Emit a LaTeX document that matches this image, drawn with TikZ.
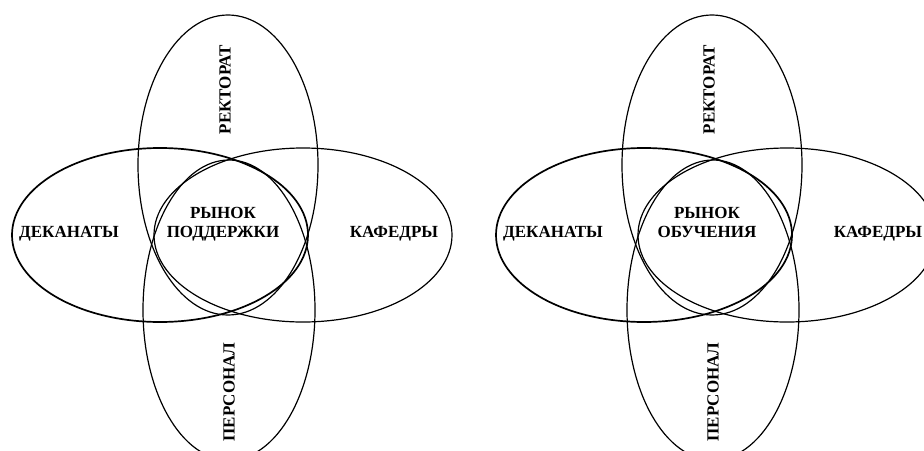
\documentclass[tikz,border=0pt]{standalone}
\usepackage{fontspec}
\setmainfont{Liberation Serif}

\tikzset{
    ring/.style = {line width=1.2pt},
    ringbold/.style = {line width=1.7pt},
    lbl/.style = {font=\fontsize{17}{19}\selectfont\bfseries, align=center, inner sep=0pt}
}

\begin{document}
\begin{tikzpicture}[x=1pt, y=-1pt]
    \useasboundingbox (0,0) rectangle (924,450);
    \foreach \dx/\mkt in {0/{РЫНОК\\ПОДДЕРЖКИ}, 484/{РЫНОК\\ОБУЧЕНИЯ}} {
    \begin{scope}[xshift=\dx pt]
        % horizontal pair
        \draw[ringbold] (160,235) ellipse [x radius=148, y radius=87];
        \draw[ring] (303,235) ellipse [x radius=149, y radius=87];
        % vertical pair
        \draw[ring] (228,165) ellipse [x radius=90, y radius=150];
        \draw[ring] (229,310) ellipse [x radius=86, y radius=150];
        \node[lbl, anchor=base] (dek\dx) at (69,237) {ДЕКАНАТЫ};
        \node[lbl, anchor=base] (kaf\dx) at (394,237) {КАФЕДРЫ};
        \node[lbl, anchor=base] (mkt\dx) at (223,237) {\mkt};
        \node[lbl, rotate=90] (rek\dx) at (225,90) {РЕКТОРАТ};
        \node[lbl, rotate=90] (per\dx) at (229,392) {ПЕРСОНАЛ};
    \end{scope}
    }
\end{tikzpicture}
\end{document}
